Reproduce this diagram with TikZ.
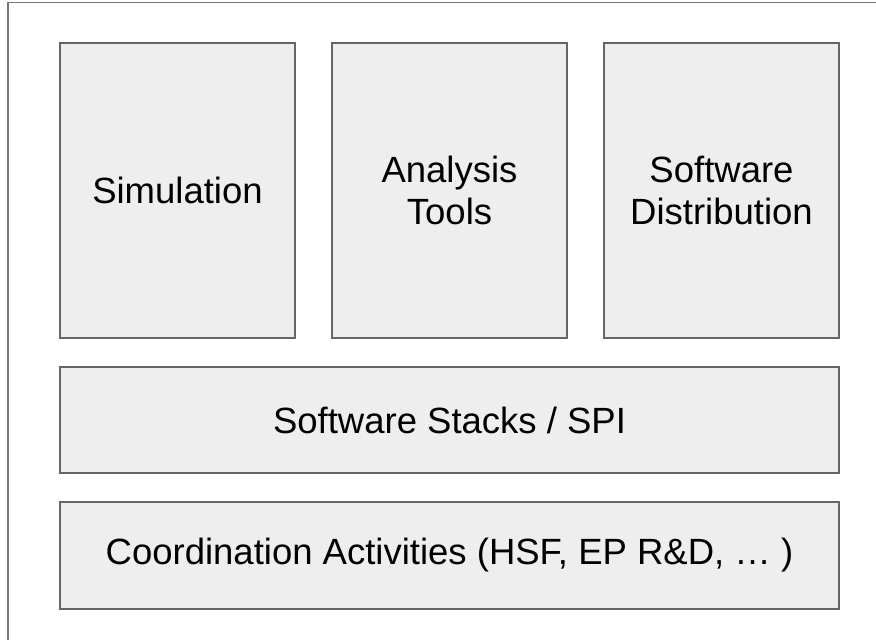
\documentclass[tikz,border=0pt]{standalone}
\usepackage{fontspec}
\setmainfont{Liberation Sans}
\definecolor{boxfill}{HTML}{EEEEEE}
\definecolor{boxline}{HTML}{666666}
\definecolor{outerline}{HTML}{777777}
\begin{document}
\begin{tikzpicture}[x=1pt,y=-1pt,
  blockbox/.style={draw=boxline, line width=2pt, fill=boxfill, inner sep=0pt, outer sep=0pt,
    align=center, font=\fontsize{36.5}{42}\selectfont, text=black},
  tallbox/.style={blockbox, minimum width=235pt, minimum height=295pt},
  widebox/.style={blockbox, minimum width=779pt, minimum height=106pt}]
\useasboundingbox (0,0) rectangle (876,640);
\clip (0,0) rectangle (876,640);
\fill[white] (0,0) rectangle (876,640);
\draw[outerline, line width=1.5pt] (8,2.5) rectangle (890,660);
\node[tallbox] (sim) at (177.5,190.5) {Simulation};
\node[tallbox] (ana) at (449.5,190.5) {Analysis\\Tools};
\node[tallbox] (dist) at (721.5,190.5) {Software\\Distribution};
\node[widebox] (stack) at (449.5,420) {Software Stacks / SPI};
\node[widebox, minimum height=107pt] (coord) at (449.5,555.5) {Coordination Activities (HSF, EP R\&D, … )};
\end{tikzpicture}
\end{document}
